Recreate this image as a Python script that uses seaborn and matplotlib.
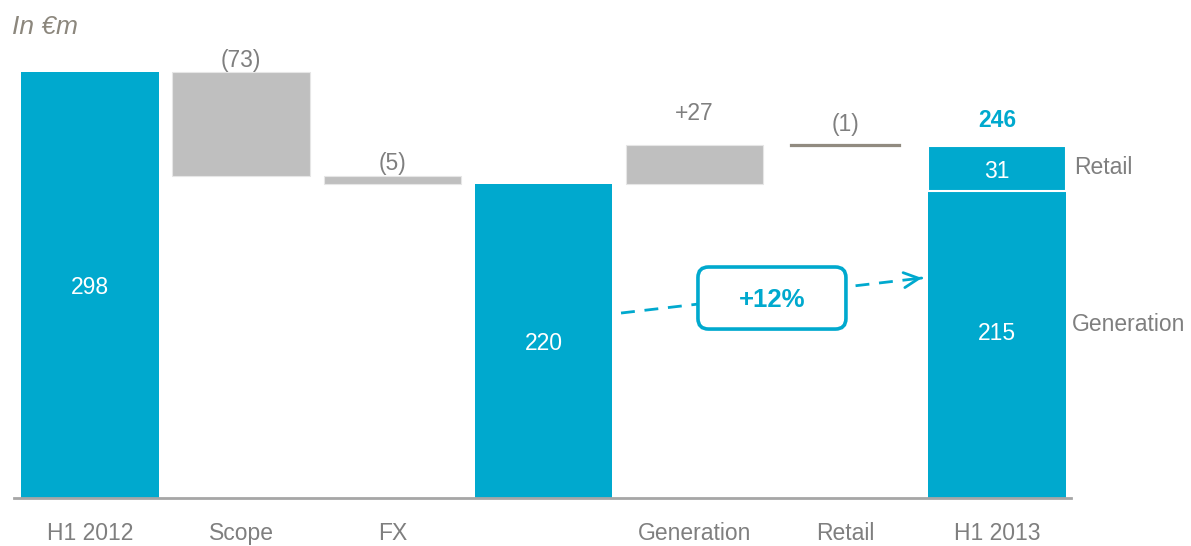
import matplotlib
matplotlib.use("Agg")
import matplotlib.pyplot as plt
from matplotlib import font_manager
from matplotlib.patches import FancyBboxPatch
import seaborn as sns
import pandas as pd
import numpy as np

# ---------------- data ----------------
categories = ["H1 2012", "Scope", "FX", "", "Generation", "Retail", "H1 2013"]
changes = [298, -73, -5, 220, 27, -1, 246]
kinds = ["total", "delta", "delta", "total", "delta", "delta", "total"]
value_labels = ["298", "(73)", "(5)", "220", "+27", "(1)", "246"]
h1_2013_parts = [215, 31]
part_names = ["Generation", "Retail"]
growth_label = "+12%"
unit_label = "In €m"

# ---------------- style ----------------
BLUE = "#00a9ce"
GREY_BAR = "#bfbfbf"
RETAIL_BAR = "#918b80"
TEXT_GREY = "#7f7f7f"
UNIT_GREY = "#8c877d"

sns.set_theme(style="white")
names = {f.name for f in font_manager.fontManager.ttflist}
narrow = "Liberation Sans Narrow" in names
base_fs = 20 if narrow else 16.5
plt.rcParams["font.family"] = (["Liberation Sans Narrow"] if narrow else []) + ["Liberation Sans", "DejaVu Sans"]

fig = plt.figure(figsize=(11.91, 5.46), dpi=100)
ax = fig.add_axes([14 / 1191, 48 / 546, 1057 / 1191, 498 / 546])

# compute waterfall geometry
bottoms, heights = [], []
running = 0
for c, k in zip(changes, kinds):
    if k == "total":
        bottoms.append(0)
        heights.append(c)
        running = c
    else:
        lo = min(running, running + c)
        bottoms.append(lo)
        heights.append(abs(c))
        running += c

# total columns via seaborn (H1 2013 lower part = Generation)
tot_vals = []
for i, k in enumerate(kinds):
    if k == "total":
        tot_vals.append(h1_2013_parts[0] if i == len(kinds) - 1 else changes[i])
tot_cats = [c for c, k in zip(categories, kinds) if k == "total"]
df_tot = pd.DataFrame({"cat": tot_cats, "val": tot_vals})
W = 0.91
sns.barplot(data=df_tot, x="cat", y="val", order=categories, color=BLUE,
            saturation=1, width=W, ax=ax, linewidth=0, zorder=2)

# floating delta bars
xs = np.arange(len(categories))
for i, k in enumerate(kinds):
    if k != "delta":
        continue
    col = RETAIL_BAR if categories[i] == "Retail" else GREY_BAR
    thin = heights[i] < 2
    ax.bar(xs[i], heights[i], bottom=bottoms[i], width=W * (0.79 if thin else 1),
           color=col, edgecolor=col if thin else "#e6e6e6",
           linewidth=1.6 if thin else 0.8, zorder=2)

# H1 2013 retail part on top
last = len(categories) - 1
ax.bar(xs[last], h1_2013_parts[1], bottom=h1_2013_parts[0], width=W, color=BLUE,
       edgecolor="white", linewidth=1.5, zorder=3)

# labels
pads = {1: 8, 2: 9, 4: 22, 5: 14.6}
for i, k in enumerate(kinds):
    if k == "delta":
        ax.text(xs[i], bottoms[i] + heights[i] + pads[i], value_labels[i], ha="center",
                va="center", color=TEXT_GREY, fontsize=base_fs)
ax.text(xs[0], changes[0] * 0.495, value_labels[0], ha="center", va="center",
        color="white", fontsize=base_fs)
ax.text(xs[3], changes[3] * 0.49, value_labels[3], ha="center", va="center",
        color="white", fontsize=base_fs)
ax.text(xs[last], h1_2013_parts[0] * 0.535, str(h1_2013_parts[0]), ha="center",
        va="center", color="white", fontsize=base_fs)
ax.text(xs[last], h1_2013_parts[0] + h1_2013_parts[1] / 2 - 2, str(h1_2013_parts[1]),
        ha="center", va="center", color="white", fontsize=base_fs)
ax.text(xs[last], changes[last] + 18, value_labels[last], ha="center", va="center",
        color=BLUE, fontsize=base_fs, fontweight="bold")

# side labels for H1 2013 parts
ax.text(6.509, 231, part_names[1], ha="left", va="center", color=TEXT_GREY,
        fontsize=base_fs, clip_on=False)
ax.text(6.496, 121.7, part_names[0], ha="left", va="center", color=TEXT_GREY,
        fontsize=base_fs, clip_on=False)

# dashed growth arrow
x0, y0, x1, y1 = 3.513, 129.4, 5.504, 153.9
ax.plot([x0, x1 - 0.04], [y0, y1 - 0.04 * (y1 - y0) / (x1 - x0)], color=BLUE, lw=2,
        linestyle=(0, (5, 3.5)), zorder=4, solid_capstyle="butt")
ax.annotate("", xy=(x1, y1), xytext=(x1 - 0.02, y1 - 0.02 * (y1 - y0) / (x1 - x0)),
            arrowprops=dict(arrowstyle="->,head_length=0.9,head_width=0.45", color=BLUE, lw=2),
            zorder=5)

# rounded box with growth label
aspect = (1 / 1.4295) / (1 / 151.17)
box = FancyBboxPatch((4.022, 118.2), 5.001 - 4.022, 161.6 - 118.2,
                     boxstyle="round,pad=0,rounding_size=0.07", mutation_aspect=aspect,
                     facecolor="white", edgecolor=BLUE, linewidth=2.6, zorder=6)
ax.add_patch(box)
ax.text(4.51, 138.5, growth_label, ha="center", va="center", color=BLUE,
        fontsize=base_fs + 2, fontweight="bold", zorder=7)

# unit label
fig.text(12 / 1191, 1 - 27 / 546, unit_label, ha="left", va="center", color=UNIT_GREY,
         fontsize=base_fs + 2.5, style="italic")

# axes styling
ax.set_xlim(-0.503, 6.49)
ax.set_ylim(0, 348.4)
ax.set_xlabel("")
ax.set_ylabel("")
ax.set_yticks([])
ax.set_xticks(xs)
ax.set_xticklabels(categories)
ax.tick_params(axis="x", length=0, pad=17, labelsize=base_fs, labelcolor=TEXT_GREY)
for s in ["top", "right", "left"]:
    ax.spines[s].set_visible(False)
ax.spines["bottom"].set_color("#a6a6a6")
ax.spines["bottom"].set_linewidth(2)
ax.patch.set_alpha(0)

fig.savefig("out.png", dpi=100)
